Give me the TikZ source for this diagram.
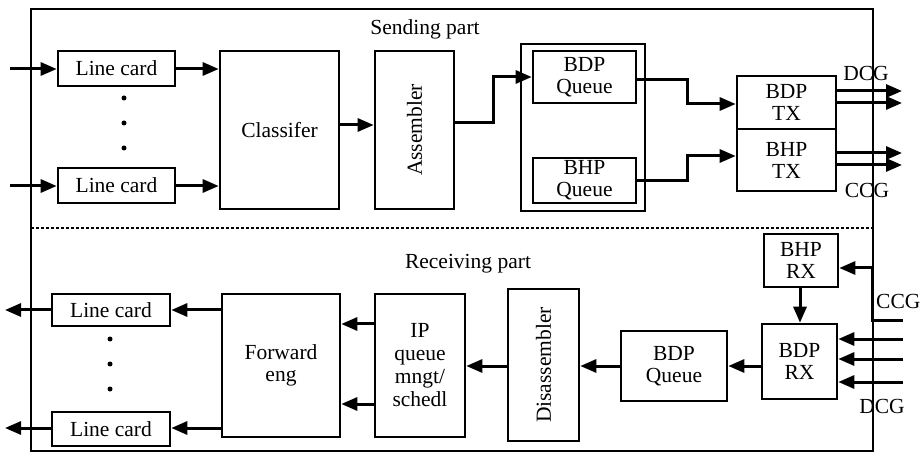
\documentclass[tikz,border=0pt]{standalone}
\usepackage{fontspec}
\setmainfont{Liberation Serif}
\usetikzlibrary{arrows.meta}
\begin{document}
\begin{tikzpicture}[x=1pt,y=-1pt,
  box/.style={draw,line width=2.6pt,inner sep=0pt,font=\fontsize{21.5}{22}\selectfont,align=center},
  arr/.style={line width=3pt,-{Triangle[length=16pt,width=13pt]}},
  ln/.style={line width=3pt},
  lbl/.style={font=\fontsize{21.5}{22}\selectfont,inner sep=0pt}]
\useasboundingbox (0,0) rectangle (921,454);
% frame
\draw[line width=2pt] (31,9) rectangle (873,451);
\draw[line width=2pt,densely dashed] (31,228) -- (873,228);
\newcommand{\bx}[6]{\node[box,minimum width=#4-#2,minimum height=#5-#3] (#1) at ({(#2+#4)/2},{(#3+#5)/2}) {#6};}
% sending
\node[lbl] (sp) at (425,29) {Sending part};
\bx{lc1}{58}{51}{175}{86}{Line card}
\bx{lc2}{58}{168}{175}{203}{Line card}
\bx{cls}{220}{51}{339}{209}{Classifer}
\bx{asm}{375}{51}{454}{209}{}
\node[lbl,rotate=90] (asmt) at (asm.center) {Assembler};
\bx{qo}{521}{44}{645}{211}{}
\bx{bdpq}{533}{51}{636}{103}{BDP\\Queue}
\bx{bhpq}{533}{158}{636}{203}{BHP\\Queue}
\bx{bdptx}{737}{76}{836}{129}{BDP\\TX}
\bx{bhptx}{737}{129}{836}{191}{BHP\\TX}
\foreach \y [count=\i] in {98,123,148} \fill (124,\y) circle (2.5pt) coordinate (sd\i);
\coordinate (in1) at (10,69);
\coordinate (in2) at (10,186);
\draw[arr] (in1) -- (in1 -| lc1.west);
\draw[arr] (in2) -- (in2 -| lc2.west);
\draw[arr] (lc1.east |- in1) -- (in1 -| cls.west);
\draw[arr] (lc2.east |- in2) -- (in2 -| cls.west);
\coordinate (ca) at (0,125);
\draw[arr] (cls.east |- ca) -- (ca -| asm.west);
\coordinate (j1) at (493,123);
\draw[arr] (asm.east |- j1) -- (j1) |- (bdpq.west);
\coordinate (j2) at (687,80);
\coordinate (j3) at (687,104);
\draw[arr] (bdpq.east |- j2) -- (j2) -- (j3) -- (j3 -| bdptx.west);
\coordinate (j4) at (687,181);
\coordinate (j5) at (687,156);
\draw[arr] (bhpq.east |- j4) -- (j4) -- (j5) -- (j5 -| bhptx.west);
\foreach \y [count=\i] in {91,103} {\coordinate (o\i) at (902,\y); \draw[arr] (bdptx.east |- o\i) -- (o\i);}
\foreach \y [count=\i] in {153,165} {\coordinate (p\i) at (902,\y); \draw[arr] (bhptx.east |- p\i) -- (p\i);}
\node[lbl] (dcg1) at (866,73) {DCG};
\node[lbl] (ccg1) at (867,190) {CCG};
% receiving
\node[lbl] (rp) at (468,264) {Receiving part};
\bx{rlc1}{52}{294}{170}{326}{Line card}
\bx{rlc2}{52}{412}{170}{446}{Line card}
\bx{fwd}{222}{294}{340}{437}{Forward\\eng}
\node[box,minimum width=90,minimum height=143,font=\fontsize{21.5}{23}\selectfont] (ipq) at (420,365.5) {IP\\queue\\mngt/\\schedl};
\bx{dis}{508}{289}{579}{441}{}
\node[lbl,rotate=90] (dist) at (dis.center) {Disassembler};
\bx{rbdpq}{621}{331}{727}{401}{BDP\\Queue}
\bx{bdprx}{762}{324}{837}{399}{BDP\\RX}
\bx{bhprx}{764}{234}{838}{287}{BHP\\RX}
\foreach \y [count=\i] in {339,364,389} \fill (110,\y) circle (2.5pt) coordinate (rd\i);
\coordinate (r1) at (5,310);
\coordinate (r2) at (5,428);
\draw[arr] (rlc1.west |- r1) -- (r1);
\draw[arr] (rlc2.west |- r2) -- (r2);
\draw[arr] (fwd.west |- r1) -- (r1 -| rlc1.east);
\draw[arr] (fwd.west |- r2) -- (r2 -| rlc2.east);
\coordinate (f1) at (0,324);
\coordinate (f2) at (0,404);
\draw[arr] (ipq.west |- f1) -- (f1 -| fwd.east);
\draw[arr] (ipq.west |- f2) -- (f2 -| fwd.east);
\coordinate (m) at (0,366);
\draw[arr] (dis.west |- m) -- (m -| ipq.east);
\draw[arr] (rbdpq.west |- m) -- (m -| dis.east);
\draw[arr] (bdprx.west |- m) -- (m -| rbdpq.east);
\coordinate (v) at (800,0);
\draw[arr] (bhprx.south -| v) -- (bdprx.north -| v);
\coordinate (c1) at (903,321);
\coordinate (c2) at (872,321);
\coordinate (c3) at (872,268);
\draw[ln] (c1) -- (c2) -- (c3);
\draw[arr] (c3) -- (c3 -| bhprx.east);
\foreach \y [count=\i] in {339,359,382} {\coordinate (d\i) at (903,\y); \draw[arr] (d\i) -- (d\i -| bdprx.east);}
\node[lbl,anchor=west] (ccg2) at (876,301) {CCG};
\node[lbl] (dcg2) at (882,406) {DCG};
\end{tikzpicture}
\end{document}
